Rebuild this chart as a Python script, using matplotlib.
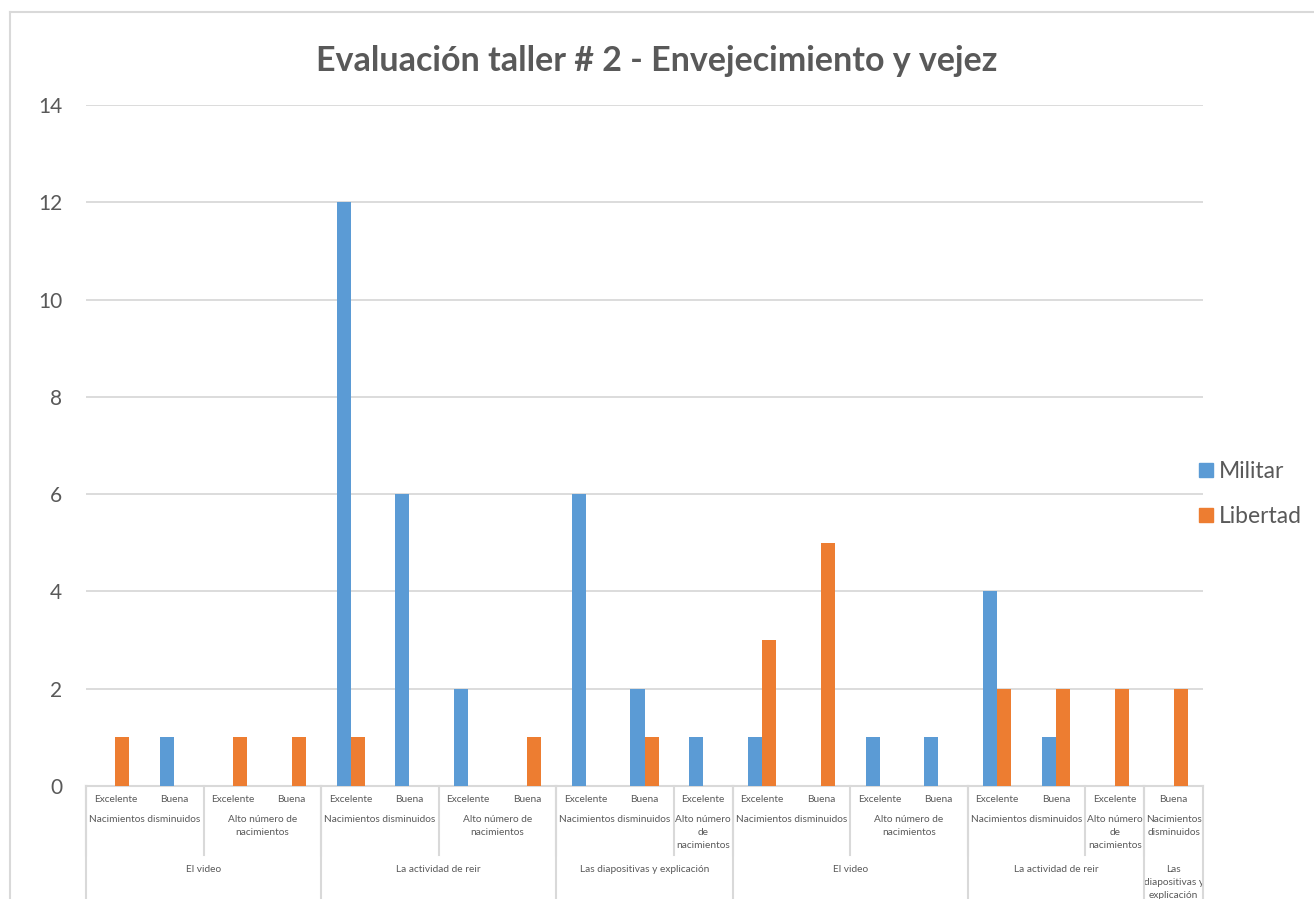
import textwrap
import numpy as np
import matplotlib
matplotlib.use("Agg")
import matplotlib.pyplot as plt
import matplotlib.transforms as mtransforms
from matplotlib.lines import Line2D
from matplotlib.patches import Patch

# leaf-level categories (level 3 / level 2 / level 1)
actividad = ["El video"] * 4 + ["La actividad de reir"] * 4 + ["Las diapositivas y explicación"] * 3 \
    + ["El video"] * 4 + ["La actividad de reir"] * 3 + ["Las diapositivas y explicación"]
pregunta = ["Nacimientos disminuidos", "Nacimientos disminuidos", "Alto número de nacimientos", "Alto número de nacimientos",
            "Nacimientos disminuidos", "Nacimientos disminuidos", "Alto número de nacimientos", "Alto número de nacimientos",
            "Nacimientos disminuidos", "Nacimientos disminuidos", "Alto número de nacimientos",
            "Nacimientos disminuidos", "Nacimientos disminuidos", "Alto número de nacimientos", "Alto número de nacimientos",
            "Nacimientos disminuidos", "Nacimientos disminuidos", "Alto número de nacimientos",
            "Nacimientos disminuidos"]
calificacion = ["Excelente", "Buena", "Excelente", "Buena",
                "Excelente", "Buena", "Excelente", "Buena",
                "Excelente", "Buena", "Excelente",
                "Excelente", "Buena", "Excelente", "Buena",
                "Excelente", "Buena", "Excelente",
                "Buena"]
militar = [0, 1, 0, 0, 12, 6, 2, 0, 6, 2, 1, 1, 0, 1, 1, 4, 1, 0, 0]
libertad = [1, 0, 1, 1, 1, 0, 0, 1, 0, 1, 0, 3, 5, 0, 0, 2, 2, 2, 2]

AZUL = "#5B9BD5"
NARANJA = "#ED7D31"
GRIS = "#595959"
LINEA = "#d9d9d9"

W, H = 1314, 899
plt.rcParams["font.family"] = ["Lato", "DejaVu Sans"]
fig = plt.figure(figsize=(W / 100, H / 100), dpi=100)
ax = fig.add_axes([86 / W, 1 - 786 / H, (1203 - 86) / W, (786 - 105) / H])

n = len(calificacion)
x = np.arange(n) + 0.5
bw = 1 / (2 + 2.19)
ax.bar(x - bw / 2, militar, bw, color=AZUL, zorder=3)
ax.bar(x + bw / 2, libertad, bw, color=NARANJA, zorder=3)

ax.set_xlim(0, n)
ax.set_ylim(0, 14)
ax.set_yticks(range(0, 15, 2))
ax.tick_params(axis="y", length=0, pad=17, labelsize=15, labelcolor=GRIS)
ax.set_xticks([])
ax.yaxis.grid(True, color=LINEA, linewidth=1.3)
ax.set_axisbelow(True)
for s in ["left", "top", "right"]:
    ax.spines[s].set_visible(False)
ax.spines["bottom"].set_color(LINEA)
ax.spines["bottom"].set_linewidth(1.5)

fig.text(0.5, 1 - 61 / H, "Evaluación taller # 2 - Envejecimiento y vejez", ha="center", va="center",
         fontsize=24.5, fontweight="bold", color=GRIS)

# hierarchical category axis
tr = mtransforms.blended_transform_factory(ax.transData, fig.transFigure)


def fy(px):
    return 1 - px / H


def vline(xv, y0, y1):
    fig.add_artist(Line2D([xv, xv], [fy(y0), fy(y1)], transform=tr, color=LINEA, lw=1.5, clip_on=False))


for i, lab in enumerate(calificacion):
    ax.text(x[i], fy(800), lab, transform=tr, ha="center", va="center", fontsize=7.3, color=GRIS)


def runs(keys):
    out = []
    start = 0
    for i in range(1, n + 1):
        if i == n or keys[i] != keys[start]:
            out.append((start, i))
            start = i
    return out


l3 = runs(actividad)
l2 = runs([(a, p, j) for j, (s, e) in enumerate(l3) for a, p in zip(actividad[s:e], pregunta[s:e])])

for s, e in l2:
    txt = "\n".join(textwrap.wrap(pregunta[s], 12 * (e - s)))
    ax.text((s + e) / 2, fy(815), txt, transform=tr, ha="center", va="top", fontsize=7.3,
            color=GRIS, linespacing=1.6)
    vline(s, 786, 855)
for s, e in l3:
    txt = "\n".join(textwrap.wrap(actividad[s], 14 * (e - s)))
    ax.text((s + e) / 2, fy(865), txt, transform=tr, ha="center", va="top", fontsize=7.3,
            color=GRIS, linespacing=1.6)
    vline(s, 786, H + 5)
vline(n, 786, H + 5)

# outer chart border
fig.add_artist(Line2D([10 / W, 1.01], [fy(12), fy(12)], transform=fig.transFigure, color=LINEA, lw=1.5))
fig.add_artist(Line2D([10 / W, 10 / W], [fy(12), -0.01], transform=fig.transFigure, color=LINEA, lw=1.5))

handles = [Patch(color=AZUL, label="Militar"), Patch(color=NARANJA, label="Libertad")]
fig.legend(handles=handles, loc="center left", bbox_to_anchor=(1199 / W, fy(494)), frameon=False,
           fontsize=16.5, labelcolor=GRIS, handlelength=0.6, handleheight=0.6, handletextpad=0.25,
           labelspacing=1.05, borderpad=0, borderaxespad=0)

fig.savefig("out.png", dpi=100)
